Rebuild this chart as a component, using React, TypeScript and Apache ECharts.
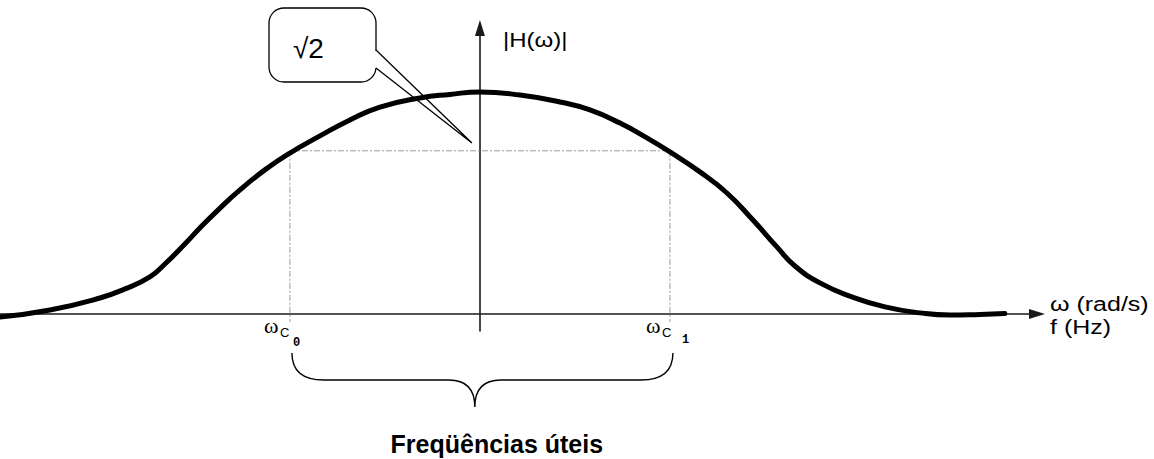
import React, { useEffect, useRef } from "react";
import * as echarts from "echarts";

// Normalised frequency (ω / ωc) and |H(ω)|
const omegaValues = [
  -2.526, -2.263, -2.0, -1.868, -1.737, -1.658, -1.553, -1.474, -1.368, -1.263,
  -1.132, -1.0, -0.842, -0.684, -0.526, -0.316, -0.158, 0.0, 0.211, 0.421,
  0.579, 0.737, 0.879, 1.0, 1.158, 1.3, 1.437, 1.563, 1.658, 1.789,
  1.958, 2.132, 2.316, 2.474, 2.632, 2.763,
];
const magnitudeValues = [
  -0.0135, 0.018, 0.072, 0.113, 0.167, 0.225, 0.315, 0.387, 0.477, 0.559,
  0.649, 0.725, 0.802, 0.874, 0.932, 0.973, 0.989, 1.0, 0.986, 0.955,
  0.919, 0.86, 0.793, 0.73, 0.64, 0.545, 0.423, 0.302, 0.216, 0.14,
  0.077, 0.032, 0.005, -0.005, -0.002, 0.002,
];
const cutoffOmegas = [-1, 1];
const cutoffLevel = 0.735;
const cutoffDropTo = -0.036;
const omegaRange = [-2.526, 2.932];
const magnitudeRange = [-0.0766, 1.288];

const cutoffSubscripts = ["0", "1"];
const calloutText = "√2";
const yAxisTitle = "|H(ω)|";
const xAxisTitles = ["ω (rad/s)", "f (Hz)"];
const braceCaption = "Freqüências úteis";

const SANS = "'Liberation Sans', Arial, sans-serif";

export default function App() {
  const ref = useRef<HTMLDivElement>(null);

  useEffect(() => {
    const el = ref.current!;
    const chart = echarts.init(el, null, { renderer: "svg" });
    const curve = omegaValues.map((w, i) => [w, magnitudeValues[i]]);

    const axisCommon = {
      type: "value" as const,
      axisTick: { show: false },
      axisLabel: { show: false },
      splitLine: { show: false },
    };
    const dashStyle = { color: "#9a9a9a", width: 1, type: [6, 2, 2, 2] };

    chart.setOption({
      animation: false,
      backgroundColor: "#ffffff",
      grid: { left: 0, right: 117, top: 28, bottom: 128, outerBoundsMode: "none" },
      xAxis: {
        ...axisCommon,
        min: omegaRange[0],
        max: omegaRange[1],
        axisLine: {
          onZero: true,
          symbol: ["none", "triangle"],
          symbolSize: [10, 16],
          lineStyle: { color: "#1a1a1a", width: 1.6 },
        },
      },
      yAxis: {
        ...axisCommon,
        min: magnitudeRange[0],
        max: magnitudeRange[1],
        axisLine: {
          onZero: true,
          symbol: ["none", "triangle"],
          symbolSize: [10, 16],
          lineStyle: { color: "#1a1a1a", width: 1.6 },
        },
      },
      series: [
        {
          type: "line",
          data: [
            [cutoffOmegas[0], cutoffLevel],
            [cutoffOmegas[1], cutoffLevel],
          ],
          symbol: "none",
          silent: true,
          lineStyle: dashStyle,
          z: 1,
        },
        ...cutoffOmegas.map((w) => ({
          type: "line",
          data: [
            [w, cutoffLevel],
            [w, cutoffDropTo],
          ],
          symbol: "none",
          silent: true,
          lineStyle: dashStyle,
          z: 1,
        })),
        {
          type: "line",
          data: curve,
          smooth: 0.5,
          symbol: "none",
          silent: true,
          lineStyle: { color: "#000000", width: 5, cap: "round" },
          z: 3,
        },
      ],
    });

    const px = (x: number, y: number) =>
      chart.convertToPixel({ gridIndex: 0 }, [x, y]) as number[];
    const origin = px(0, 0);
    const c0 = px(cutoffOmegas[0], 0);
    const c1 = px(cutoffOmegas[1], 0);
    const xEnd = px(omegaRange[1], 0);
    const yTop = px(0, magnitudeRange[1]);

    // curly brace under the useful band
    const L = c0[0] + 2;
    const R = c1[0] + 3;
    const T = L + (R - L) * 0.48;
    const top = origin[1] + 39;
    const mid = top + 27;
    const bot = top + 54;
    const braceD =
      `M${L},${top} C${L},${top + 18} ${L + 10},${mid} ${L + 32},${mid} ` +
      `L${T - 26},${mid} C${T - 8},${mid} ${T},${mid + 9} ${T},${bot} ` +
      `C${T},${mid + 9} ${T + 8},${mid} ${T + 26},${mid} ` +
      `L${R - 32},${mid} C${R - 10},${mid} ${R},${top + 18} ${R},${top}`;
    echarts.graphic.registerShape("brace", echarts.graphic.extendPath(braceD, {}));

    const txt = (
      text: string,
      x: number,
      y: number,
      fontSize: number,
      opts: any = {}
    ) => ({
      type: "text",
      x,
      y,
      scaleX: opts.scaleX ?? 1,
      z: 20,
      style: {
        text,
        x: 0,
        y: 0,
        fill: "#000",
        fontSize,
        fontFamily: opts.fontFamily ?? SANS,
        fontWeight: opts.fontWeight ?? "normal",
        align: opts.align ?? "left",
        verticalAlign: "middle",
      },
    });

    const cutoffLabel = (cx: number, sub: string, o: number[]) => [
      txt("ω", cx + o[0], origin[1] + 12, 22, { fontFamily: "'Liberation Serif', serif" }),
      txt("C", cx + o[1], origin[1] + 19, 13, { fontFamily: SANS }),
      txt(sub, cx + o[2], origin[1] + o[3], 12, {
        fontFamily: "'Liberation Mono', monospace",
        fontWeight: "bold",
      }),
    ];

    const boxX = 269, boxY = 8, boxW = 107, boxH = 74;
    const tip = [origin[0] - 8, origin[1] - 171];

    chart.setOption({
      graphic: [
        {
          type: "rect",
          z: 10,
          shape: { x: boxX, y: boxY, width: boxW, height: boxH, r: 15 },
          style: { fill: "#fff", stroke: "#000", lineWidth: 1.3 },
        },
        {
          type: "rect",
          z: 11,
          shape: { x: boxX + boxW - 2, y: boxY + 43, width: 4, height: 17 },
          style: { fill: "#fff", stroke: "none" },
        },
        {
          type: "polyline",
          z: 12,
          shape: {
            points: [
              [boxX + boxW, boxY + 42],
              tip,
              [boxX + boxW, boxY + 60],
            ],
          },
          style: { fill: "none", stroke: "#000", lineWidth: 1.3 },
        },
        txt(calloutText, boxX + 24, boxY + 40, 28),
        txt(yAxisTitle, origin[0] + 23, yTop[1] + 12, 20, { scaleX: 1.2 }),
        txt(xAxisTitles[0], xEnd[0] + 13, origin[1] - 10, 20, { scaleX: 1.25 }),
        txt(xAxisTitles[1], xEnd[0] + 13, origin[1] + 13, 20, { scaleX: 1.25 }),
        ...cutoffLabel(c0[0], cutoffSubscripts[0], [-26, -10, 3, 29]),
        ...cutoffLabel(c1[0], cutoffSubscripts[1], [-24, -8, 12, 26]),
        {
          type: "brace",
          z: 10,
          style: { fill: "none", stroke: "#000", lineWidth: 1.4 },
        },
        txt(braceCaption, T + 22, bot + 37, 25, { fontWeight: "bold", align: "center" }),
      ],
    });

    return () => chart.dispose();
  }, []);

  return (
    <div
      ref={ref}
      style={{
        position: "absolute",
        left: 0,
        top: 0,
        width: 1154,
        height: 459,
        background: "#fff",
      }}
    />
  );
}
